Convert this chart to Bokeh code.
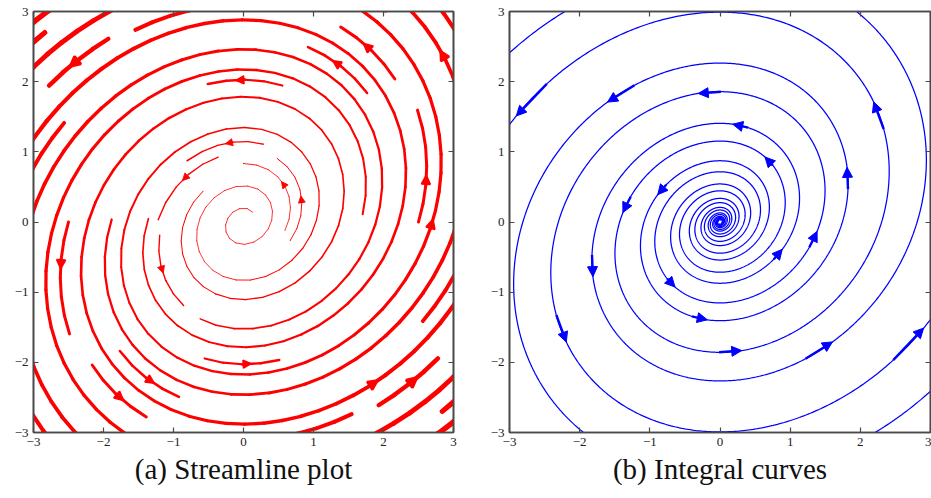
import numpy as np
from bokeh.plotting import figure
from bokeh.models import (Range1d, LinearAxis, FixedTicker, CustomJSTickFormatter,
                          Arrow, NormalHead, Title)
from bokeh.layouts import row
from bokeh.embed import file_html
from bokeh.resources import INLINE

# ---------------- data ----------------
# linear vector field: dx/dt = a*x + b*y , dy/dt = c*x + d*y
field_matrix = [[0.3, -1.0], [1.0, 0.0]]
x_limits = [-3.0, 3.0]
y_limits = [-3.0, 3.0]
tick_values = [-3, -2, -1, 0, 1, 2, 3]
tick_labels = ["\u22123", "\u22122", "\u22121", "0", "1", "2", "3"]
# streamline plot settings (matplotlib-like streamplot on a wider data grid)
stream_domain = [-5.0, 5.0]
stream_density = 1.25
stream_width_per_speed = 1.15
stream_max_length = 4.0
stream_min_length = 0.1
# integral curves: seeds and times at which arrows are drawn
curve_seed_x = [0.69, -0.84, -0.69, 0.84]
curve_seed_y = [0.88, 0.45, -0.88, -0.45]
curve_arrow_times = [[0, 2, 4, 6, 8], [0, 2, 4, 6], [0, 2, 4, 6, 8], [0, 2, 4, 6]]
curve_time_span = [-24.0, 12.0]
captions = ["(a) Streamline plot", "(b) Integral curves"]

AXIS_COLOR = "#4a4a4a"
FONT = "Liberation Serif"
RED = "#ff0000"
BLUE = "#0000ff"


def field(x, y):
    (a, b), (c, d) = field_matrix
    return a * x + b * y, c * x + d * y


# ---------------- streamplot algorithm ----------------
class _Out(Exception):
    pass


class _Stop(Exception):
    pass


class _Blocked(Exception):
    pass


def compute_streamlines():
    nm = int(30 * stream_density)
    X0 = Y0 = stream_domain[0]
    W = H = stream_domain[1] - stream_domain[0]
    mask = np.zeros((nm, nm), dtype=int)
    st = {"cur": None, "traj": []}

    def within(xa, ya):
        return 0.0 <= xa <= 1.0 and 0.0 <= ya <= 1.0

    def g2m(xa, ya):
        return int(xa * (nm - 1) + 0.5), int(ya * (nm - 1) + 0.5)

    def mark(xm, ym):
        if st["cur"] != (xm, ym):
            if mask[ym, xm] == 0:
                st["traj"].append((ym, xm))
                mask[ym, xm] = 1
                st["cur"] = (xm, ym)
            else:
                raise _Blocked

    def f(xa, ya, sgn):
        if not within(xa, ya):
            raise _Out
        u, v = field(X0 + xa * W, Y0 + ya * H)
        ua, va = u / W, v / H
        sp = float(np.hypot(ua, va))
        if sp == 0:
            raise _Stop
        return sgn * ua / sp, sgn * va / sp

    def euler(traj, sgn):
        xi, yi = traj[-1]
        cx, cy = f(xi, yi, sgn)
        dsx = np.inf if cx == 0 else (xi / -cx if cx < 0 else (1 - xi) / cx)
        dsy = np.inf if cy == 0 else (yi / -cy if cy < 0 else (1 - yi) / cy)
        ds = min(dsx, dsy)
        traj.append((xi + cx * ds, yi + cy * ds))
        return ds

    def rk12(x0, y0, sgn):
        maxerror = 0.003
        maxds = min(1.0 / nm, 0.1)
        ds = maxds
        stotal = 0.0
        xi, yi = x0, y0
        traj = []
        while True:
            try:
                if within(xi, yi):
                    traj.append((xi, yi))
                else:
                    raise _Out
                k1x, k1y = f(xi, yi, sgn)
                k2x, k2y = f(xi + ds * k1x, yi + ds * k1y, sgn)
            except _Out:
                if traj:
                    stotal += euler(traj, sgn)
                break
            except _Stop:
                break
            dx1, dy1 = ds * k1x, ds * k1y
            dx2, dy2 = ds * 0.5 * (k1x + k2x), ds * 0.5 * (k1y + k2y)
            err = float(np.hypot(dx2 - dx1, dy2 - dy1))
            if err < maxerror:
                xi += dx2
                yi += dy2
                try:
                    if not within(xi, yi):
                        raise _Blocked
                    mark(*g2m(xi, yi))
                except _Blocked:
                    break
                if stotal + ds > stream_max_length:
                    break
                stotal += ds
            ds = maxds if err == 0 else min(maxds, 0.85 * ds * (maxerror / err) ** 0.5)
        return stotal, traj

    def starts(n):
        xfirst, yfirst, xlast, ylast = 0, 1, n - 1, n - 1
        x = y = 0
        direction = "right"
        for _ in range(n * n):
            yield x, y
            if direction == "right":
                x += 1
                if x >= xlast:
                    xlast -= 1
                    direction = "up"
            elif direction == "up":
                y += 1
                if y >= ylast:
                    ylast -= 1
                    direction = "left"
            elif direction == "left":
                x -= 1
                if x <= xfirst:
                    xfirst += 1
                    direction = "down"
            else:
                y -= 1
                if y <= yfirst:
                    yfirst += 1
                    direction = "right"

    def integrate(xm, ym):
        xa, ya = xm / (nm - 1), ym / (nm - 1)
        st["traj"] = []
        st["cur"] = None
        try:
            mark(*g2m(xa, ya))
        except _Blocked:
            return None
        sb, tb = rk12(xa, ya, -1.0)
        st["cur"] = g2m(xa, ya)
        sf, tf = rk12(xa, ya, 1.0)
        traj = tb[::-1] + tf[1:]
        if sb + sf > stream_min_length:
            return traj
        for (yy, xx) in st["traj"]:
            mask[yy, xx] = 0
        return None

    out = []
    for xm, ym in starts(nm):
        if mask[ym, xm] == 0:
            t = integrate(xm, ym)
            if t is not None and len(t) > 1:
                arr = np.array(t)
                out.append((X0 + arr[:, 0] * W, Y0 + arr[:, 1] * H))
    return out


def speed(x, y):
    u, v = field(x, y)
    return np.hypot(u, v)


def inside(x, y, pad=0.0):
    return (x_limits[0] + pad <= x <= x_limits[1] - pad) and (y_limits[0] + pad <= y <= y_limits[1] - pad)


streams = compute_streamlines()
sx0, sy0, sx1, sy1, sw = [], [], [], [], []
stream_arrows = []
for tx, ty in streams:
    lw = stream_width_per_speed * speed(tx, ty)
    sx0.extend(tx[:-1]); sy0.extend(ty[:-1]); sx1.extend(tx[1:]); sy1.extend(ty[1:])
    sw.extend(np.maximum(lw[:-1], 0.8))
    s = np.cumsum(np.hypot(np.diff(tx), np.diff(ty)))
    n = int(np.searchsorted(s, s[-1] / 2.0))
    n = min(n, len(tx) - 2)
    hx, hy = np.mean(tx[n:n + 2]), np.mean(ty[n:n + 2])
    if inside(hx, hy, 0.05):
        stream_arrows.append((tx[n], ty[n], hx, hy, lw[n]))


# ---------------- integral curves ----------------
def rk4_path(x0, y0, t_end, dt=0.01):
    nsteps = int(round(abs(t_end) / dt))
    h = dt if t_end > 0 else -dt
    pts = np.empty((nsteps + 1, 2))
    p = np.array([x0, y0], dtype=float)
    pts[0] = p
    for i in range(nsteps):
        k1 = np.array(field(*p))
        k2 = np.array(field(*(p + 0.5 * h * k1)))
        k3 = np.array(field(*(p + 0.5 * h * k2)))
        k4 = np.array(field(*(p + h * k3)))
        p = p + h / 6.0 * (k1 + 2 * k2 + 2 * k3 + k4)
        pts[i + 1] = p
    return pts


DT = 0.01
curves = []
curve_arrows = []
for cx, cy, times in zip(curve_seed_x, curve_seed_y, curve_arrow_times):
    back = rk4_path(cx, cy, curve_time_span[0], DT)
    fwd = rk4_path(cx, cy, curve_time_span[1], DT)
    path = np.vstack([back[::-1], fwd[1:]])
    curves.append(path)
    i0 = len(back) - 1
    for t in times:
        k = i0 + int(round(t / DT))
        tail = path[k - 10]
        tip = path[k + 7]
        if inside(tip[0], tip[1]):
            curve_arrows.append((tail[0], tail[1], tip[0], tip[1]))


# ---------------- figures ----------------
def add_axes(p):
    for loc, labels in (("below", True), ("left", True), ("above", False), ("right", False)):
        ax = LinearAxis(ticker=FixedTicker(ticks=tick_values))
        ax.major_tick_in = 5
        ax.major_tick_out = 0
        ax.minor_tick_line_color = None
        ax.axis_line_color = AXIS_COLOR
        ax.axis_line_width = 1.6
        ax.major_tick_line_color = AXIS_COLOR
        ax.major_tick_line_width = 1.2
        if labels:
            ax.major_label_overrides = {v: l for v, l in zip(tick_values, tick_labels)}
            ax.major_label_text_font = FONT
            ax.major_label_text_font_size = "13px"
            ax.major_label_text_color = "#222222"
            ax.major_label_standoff = 5
        else:
            ax.formatter = CustomJSTickFormatter(code="return ''")
            ax.major_label_text_font_size = "0px"
            ax.major_label_standoff = 0
        p.add_layout(ax, loc)


def make_panel(width, border_right, caption):
    p = figure(width=width, height=498,
               x_range=Range1d(*x_limits), y_range=Range1d(*y_limits),
               output_backend="svg", toolbar_location=None,
               x_axis_location=None, y_axis_location=None,
               min_border_left=33, min_border_right=border_right,
               min_border_top=11, min_border_bottom=66)
    p.xgrid.grid_line_color = None
    p.ygrid.grid_line_color = None
    p.outline_line_color = AXIS_COLOR
    p.outline_line_width = 1.6
    p.background_fill_color = "white"
    p.border_fill_color = "white"
    add_axes(p)
    p.add_layout(Title(text=caption, align="center", text_font=FONT, text_font_size="29px",
                       text_font_style="normal", text_color="#111111", standoff=4), "below")
    return p


p1 = make_panel(476, 23, captions[0])
p1.segment(sx0, sy0, sx1, sy1, line_width=sw, line_color=RED, line_cap="round")
for x0, y0, x1, y1, lw in stream_arrows:
    p1.add_layout(Arrow(end=NormalHead(size=6 + 0.9 * lw, fill_color=RED, line_color=RED,
                                       line_width=max(lw * 0.6, 0.8)),
                        x_start=x0, y_start=y0, x_end=x1, y_end=y1,
                        line_color=RED, line_width=max(lw, 0.8)))

p2 = make_panel(455, 1, captions[1])
p2.multi_line([c[:, 0] for c in curves], [c[:, 1] for c in curves],
              line_color=BLUE, line_width=1.25)
for x0, y0, x1, y1 in curve_arrows:
    p2.add_layout(Arrow(end=NormalHead(size=10, fill_color=BLUE, line_color=BLUE, line_width=1),
                        x_start=x0, y_start=y0, x_end=x1, y_end=y1,
                        line_color=BLUE, line_width=2.4))

layout = row(p1, p2)
open("out.html", "w").write(file_html(layout, INLINE))
